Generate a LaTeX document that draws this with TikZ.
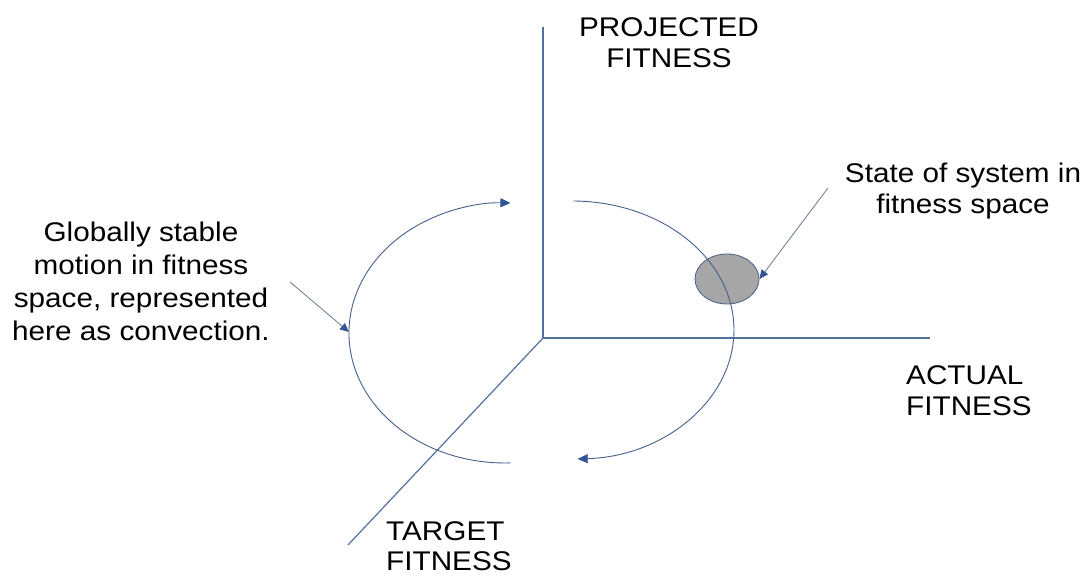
\documentclass[tikz,border=0pt]{standalone}
\usepackage{fontspec}
\setmainfont{Liberation Sans}[FakeStretch=1.1]
\usetikzlibrary{arrows.meta}
\usetikzlibrary{shapes.geometric}
\definecolor{axisblue}{RGB}{84,112,160}
\definecolor{flowblue}{RGB}{70,96,140}
\definecolor{tipblue}{RGB}{47,85,151}
\definecolor{annotgray}{RGB}{105,120,148}
\definecolor{stategray}{RGB}{166,166,166}

\begin{document}
\begin{tikzpicture}[x=1pt, y=1pt, font=\fontsize{27}{31}\selectfont]
		\tikzstyle{axis}=[draw=axisblue, line width=1.2pt]
		\tikzstyle{flow}=[draw=flowblue, line width=0.9pt, -{Triangle[length=10pt,width=9pt,color=tipblue]}]
		\tikzstyle{annot}=[draw=annotgray, line width=0.8pt, -{Triangle[length=9pt,width=8pt,color=tipblue]}]
		\tikzstyle{lbl}=[inner sep=0pt, align=center, text=black]
		
		\useasboundingbox (0,0) rectangle (1086,577);
		
		\coordinate (O) at (543,239);
		\coordinate (ztop) at (543,550);
		\coordinate (xend) at (930,239);
		\coordinate (yend) at (348,32);
		
		\draw[axis] (O) -- (ztop);
		\draw[axis] (O) -- (xend);
		\draw[axis] (O) -- (yend);
		
		\node[ellipse, draw=flowblue, fill=stategray, line width=0.8pt, minimum width=64pt, minimum height=50pt, inner sep=0pt] (sys) at (727,298) {};
		
		\coordinate (lbot) at (510.4,114.1);
		\coordinate (rtop) at (573.4,376);
		\draw[flow] (lbot) arc[start angle=272, end angle=88, x radius=156, y radius=130];
		\draw[flow] (rtop) arc[start angle=89.5, end angle=-88, x radius=162, y radius=129];
		
		\node[lbl, anchor=north] (proj) at (669,560) {PROJECTED\\FITNESS};
		\node[lbl, anchor=north, font=\fontsize{27}{33}\selectfont] (glob) at (141,355) {Globally stable\\motion in fitness\\space, represented\\here as convection.};
		\node[lbl, anchor=north] (state) at (963,414) {State of system in\\fitness space};
		\node[lbl, anchor=north west, align=left] (act) at (906,212) {ACTUAL\\FITNESS};
		\node[lbl, anchor=north west, align=left, font=\fontsize{27}{30}\selectfont] (targ) at (386,56) {TARGET\\FITNESS};
		
		\coordinate (stfrom) at (828,389);
		\coordinate (glfrom) at (290,295);
		\coordinate (arcl) at (349,245);
		\draw[annot] (stfrom) -- (sys.east);
		\draw[annot] (glfrom) -- (arcl);
	\end{tikzpicture}
\end{document}
